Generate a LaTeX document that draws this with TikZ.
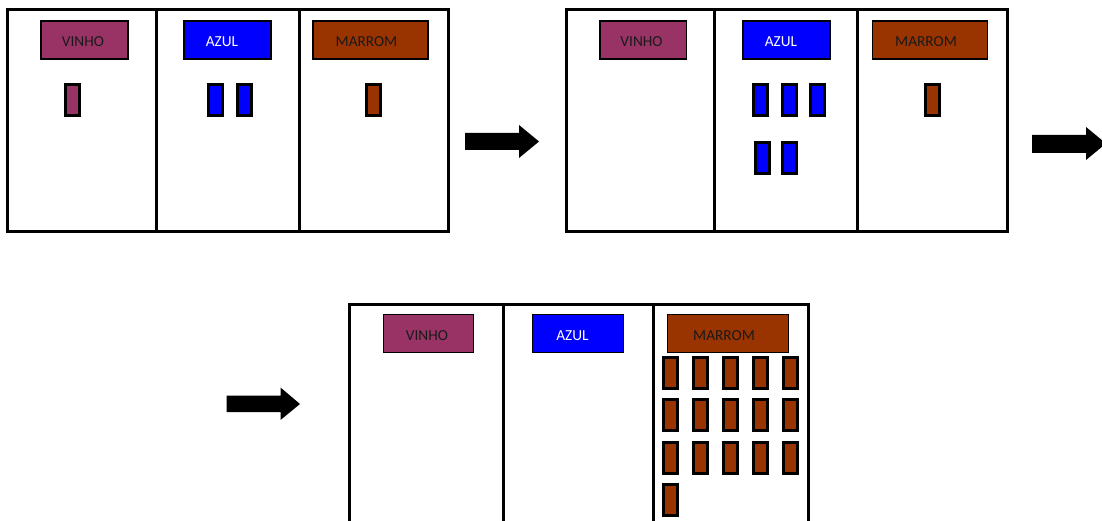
\documentclass[tikz,border=0pt]{standalone}
\usepackage{fontspec}
\setmainfont{Carlito}
\definecolor{vinho}{HTML}{993366}
\definecolor{azul}{HTML}{0000FF}
\definecolor{marrom}{HTML}{993300}
\definecolor{labtext}{HTML}{1A1A1A}
\newcommand{\lsh}[1]{\hspace*{#1}}
\begin{document}
\begin{tikzpicture}[x=1pt,y=-1pt,
  panel/.style={line width=3pt},
  lab/.style={draw=black,line width=1.5pt,minimum height=38pt,inner sep=0pt,outer sep=0pt,text=labtext,
    text height=13.8pt,text depth=0pt,font=\fontsize{15.3}{15.3}\selectfont},
  chip/.style={draw=black,line width=3pt,minimum width=14pt,minimum height=31pt,inner sep=0pt,outer sep=0pt},
  blockarrow/.style={fill=black}]
\useasboundingbox (0,0) rectangle (1102,521);
% panel 1
\draw[panel] (7,10) rectangle (448,232);
\draw[panel] (156,10) -- (156,232);
\draw[panel] (299,10) -- (299,232);
\node[lab,fill=vinho,minimum width=87pt] (v1) at (84.5,40) {\lsh{-3pt}VINHO};
\node[lab,fill=azul,text=white,minimum width=87pt] (a1) at (227.5,40) {\lsh{-11pt}AZUL};
\node[lab,fill=marrom,minimum width=115pt] (m1) at (370.5,40) {\lsh{-8pt}MARROM};
\node[chip,fill=vinho] (v1c1) at (72.5,100) {};
\node[chip,fill=azul] (a1c1) at (215.5,100) {};
\node[chip,fill=azul] (a1c2) at (244,100) {};
\node[chip,fill=marrom] (m1c1) at (373.5,100) {};
% arrow 1
\fill[blockarrow] (465,133) -- (519,133) -- (519,125) -- (539,141.5) -- (519,158) -- (519,150) -- (465,150) -- cycle;
% panel 2
\draw[panel] (566,10) rectangle (1007,232);
\draw[panel] (714,10) -- (714,232);
\draw[panel] (857,10) -- (857,232);
\node[lab,fill=vinho,minimum width=86.5pt] (v2) at (643,40) {\lsh{-3pt}VINHO};
\node[lab,fill=azul,text=white,minimum width=87pt] (a2) at (786.5,40) {\lsh{-11pt}AZUL};
\node[lab,fill=marrom,minimum width=115pt] (m2) at (930,40) {\lsh{-8pt}MARROM};
\foreach \x [count=\i] in {760.5,789,817.5}
  \node[chip,fill=azul] (a2r1c\i) at (\x,100) {};
\foreach \x [count=\i] in {762.5,789}
  \node[chip,fill=azul] (a2r2c\i) at (\x,158) {};
\node[chip,fill=marrom] (m2c1) at (932.5,100) {};
% arrow 2
\fill[blockarrow] (1032,135) -- (1086,135) -- (1086,127) -- (1106,143.5) -- (1086,160) -- (1086,153) -- (1032,153) -- cycle;
% arrow 3
\fill[blockarrow] (226.5,395.5) -- (280.5,395.5) -- (280.5,387.5) -- (300,404) -- (280.5,420) -- (280.5,412) -- (226.5,412) -- cycle;
% panel 3
\draw[panel] (349,530) -- (349,304) -- (808,304) -- (808,530);
\draw[panel] (503,304) -- (503,530);
\draw[panel] (653,304) -- (653,530);
\node[lab,fill=vinho,minimum width=90pt] (v3) at (428.5,333.5) {\lsh{-3pt}VINHO};
\node[lab,fill=azul,text=white,minimum width=91pt] (a3) at (578,333.5) {\lsh{-11pt}AZUL};
\node[lab,fill=marrom,minimum width=121pt] (m3) at (728,333.5) {\lsh{-8pt}MARROM};
\foreach \y [count=\j] in {373,415,457.5}
  \foreach \x [count=\i] in {670.5,700.5,730.5,760.5,790}
    \node[chip,fill=marrom] (m3r\j c\i) at (\x,\y) {};
\node[chip,fill=marrom] (m3r4c1) at (670.5,500) {};
\end{tikzpicture}
\end{document}
